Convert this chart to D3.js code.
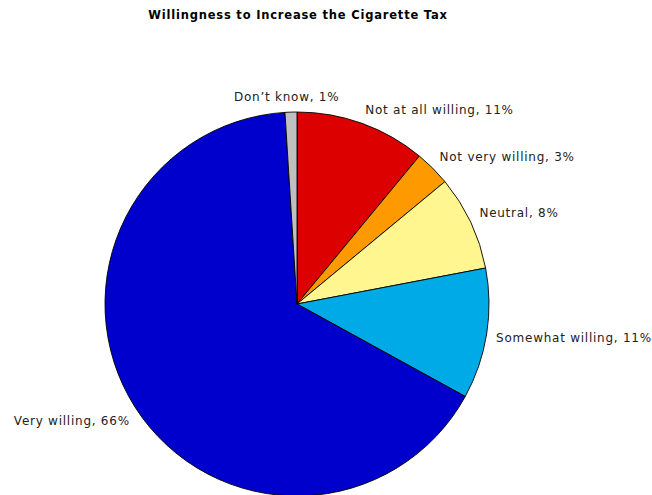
<!DOCTYPE html>
<html><head><meta charset="utf-8">
<script src="https://cdn.jsdelivr.net/npm/d3@7"></script>
<style>body{margin:0;background:#fff;}svg{display:block;}</style>
</head><body>
<svg id="c" width="652" height="495"></svg>
<script>
const categories = ["Not at all willing","Not very willing","Neutral","Somewhat willing","Very willing","Don\u2019t know"];
const values = [11,3,8,11,66,1];
const colors = ["#DD0000","#FF9900","#FFF68F","#00AAE6","#0000CC","#C0C0C0"];
const title = "Willingness to Increase the Cigarette Tax";

const svg = d3.select("#c");
const cx = 297, cy = 304, r = 192;
const font = "Verdana, 'DejaVu Sans', sans-serif";

svg.append("text").attr("x", 298).attr("y", 19).attr("text-anchor","middle")
  .attr("font-family", font).attr("font-size", 11.5).attr("font-weight","bold")
  .attr("letter-spacing", 0.8)
  .attr("fill","#000").text(title);

const pie = d3.pie().sort(null).value(d => d)(values);
const arc = d3.arc().innerRadius(0).outerRadius(r);
const g = svg.append("g").attr("transform", `translate(${cx},${cy})`);
g.selectAll("path").data(pie).join("path")
  .attr("d", arc).attr("fill", (d,i) => colors[i])
  .attr("stroke","#000").attr("stroke-width",0.9).attr("stroke-linejoin","round");

const lr = r * 1.05;
g.selectAll("text.lbl").data(pie).join("text").attr("class","lbl")
  .each(function(d,i){
    const a = (d.startAngle + d.endAngle)/2;
    const s = Math.sin(a), c = Math.cos(a);
    let x = lr * s, y = -lr * c;
    const anchor = s > 0.1 ? "start" : (s < -0.1 ? "end" : "middle");
    let shift = c > 0 ? -5 : -c * 16;
    let dx = anchor === "end" ? 3 : (anchor === "middle" ? -4 : 0);
    const dy = anchor === "middle" ? "-0.1em" : "0.35em";
    d3.select(this).attr("x", x + dx).attr("y", y + (anchor === "middle" ? 0 : shift)).attr("dy", dy)
      .attr("text-anchor", anchor)
      .attr("font-family", font).attr("font-size", 12).attr("fill","#222")
      .attr("letter-spacing", 0.75)
      .text(categories[i] + ", " + values[i] + "%");
  });
</script>
</body></html>
